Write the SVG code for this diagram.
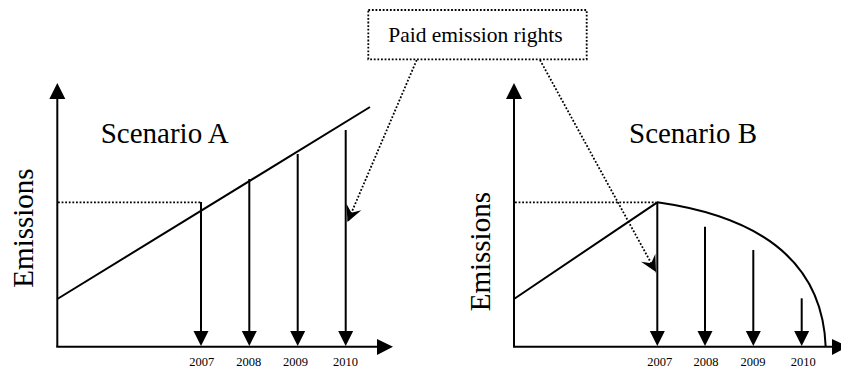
<svg xmlns="http://www.w3.org/2000/svg" width="841" height="369" viewBox="0 0 841 369">
  <style>
    .ln { stroke: #000; stroke-width: 2; fill: none; }
    .hd { fill: #000; stroke: none; }
    .dot { stroke: #000; stroke-width: 1.8; fill: none; stroke-dasharray: 1.8 1.8; }
    .big { font-family: "Liberation Serif", "DejaVu Serif", serif; font-size: 29px; fill: #000; }
    .yr { font-family: "Liberation Serif", "DejaVu Serif", serif; font-size: 12.5px; fill: #000; text-anchor: middle; }
    .lbl { font-family: "Liberation Serif", "DejaVu Serif", serif; font-size: 21.5px; fill: #000; text-anchor: middle; }
  </style>
  <defs>
    <marker id="stealth" markerUnits="userSpaceOnUse" markerWidth="20" markerHeight="20" viewBox="-14 -8 16 16" refX="0" refY="0" orient="auto">
      <path d="M0,0 L-13,-6.5 L-8,0 L-13,6.5 Z" fill="#000"/>
    </marker>
  </defs>
  <rect width="841" height="369" fill="#fff"/>

  <!-- Scenario A chart -->
  <g id="chart-a">
    <line class="ln" x1="57.3" y1="347" x2="57.3" y2="98"/>
    <polygon class="hd" points="49.3,99 65.3,99 57.3,83"/>
    <line class="ln" x1="56.3" y1="346.7" x2="378" y2="346.7"/>
    <polygon class="hd" points="377,339 377,355 393,346.7"/>
    <line class="ln" x1="57.3" y1="299" x2="370" y2="107"/>
    <line class="dot" x1="58" y1="202.3" x2="201" y2="202.3"/>
    <text class="big" x="100.7" y="143">Scenario A</text>
    <text class="big" transform="translate(33 228) rotate(-90)" text-anchor="middle">Emissions</text>
  </g>

  <!-- Scenario A yearly arrows -->
  <g id="arrows-a">
    <line class="ln" x1="201" y1="202" x2="201" y2="332"/>
    <polygon class="hd" points="193.5,331 208.5,331 201,346"/>
    <line class="ln" x1="249.3" y1="179" x2="249.3" y2="332"/>
    <polygon class="hd" points="241.8,331 256.8,331 249.3,346"/>
    <line class="ln" x1="297.7" y1="154" x2="297.7" y2="332"/>
    <polygon class="hd" points="290.2,331 305.2,331 297.7,346"/>
    <line class="ln" x1="345.7" y1="130" x2="345.7" y2="332"/>
    <polygon class="hd" points="338.2,331 353.2,331 345.7,346"/>
    <text class="yr" x="201.8" y="366">2007</text>
    <text class="yr" x="248.7" y="366">2008</text>
    <text class="yr" x="295.5" y="366">2009</text>
    <text class="yr" x="345.5" y="366">2010</text>
  </g>

  <!-- Scenario B chart -->
  <g id="chart-b">
    <line class="ln" x1="514" y1="347" x2="514" y2="98"/>
    <polygon class="hd" points="506,99 522,99 514,83"/>
    <line class="ln" x1="513" y1="346.7" x2="833" y2="346.7"/>
    <polygon class="hd" points="832,339 832,355 848,346.7"/>
    <path class="ln" d="M514,299 L657.3,202.3 C740,214 822,248 825.7,347"/>
    <line class="dot" x1="515" y1="202.3" x2="656" y2="202.3"/>
    <text class="big" x="629" y="143">Scenario B</text>
    <text class="big" transform="translate(490 251.7) rotate(-90)" text-anchor="middle">Emissions</text>
  </g>

  <!-- Scenario B yearly arrows -->
  <g id="arrows-b">
    <line class="ln" x1="657.3" y1="202" x2="657.3" y2="332"/>
    <polygon class="hd" points="649.8,331 664.8,331 657.3,346"/>
    <line class="ln" x1="705" y1="226.7" x2="705" y2="332"/>
    <polygon class="hd" points="697.5,331 712.5,331 705,346"/>
    <line class="ln" x1="753.3" y1="250" x2="753.3" y2="332"/>
    <polygon class="hd" points="745.8,331 760.8,331 753.3,346"/>
    <line class="ln" x1="801.7" y1="298.3" x2="801.7" y2="332"/>
    <polygon class="hd" points="794.2,331 809.2,331 801.7,346"/>
    <text class="yr" x="659.7" y="366">2007</text>
    <text class="yr" x="706" y="366">2008</text>
    <text class="yr" x="753" y="366">2009</text>
    <text class="yr" x="803.3" y="366">2010</text>
  </g>

  <!-- Callout box -->
  <g id="callout">
    <rect class="dot" x="368.3" y="10" width="218.4" height="49.3"/>
    <text class="lbl" x="475.4" y="41.7">Paid emission rights</text>
  </g>

  <!-- Callout connectors -->
  <g id="connectors">
    <line class="dot" x1="416.7" y1="60" x2="347.5" y2="222" marker-end="url(#stealth)"/>
    <line class="dot" x1="540" y1="60" x2="656" y2="272" marker-end="url(#stealth)"/>
  </g>
</svg>
